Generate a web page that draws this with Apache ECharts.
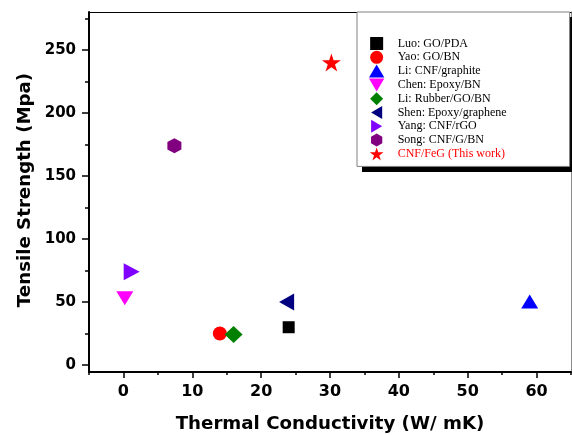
<!DOCTYPE html>
<html>
<head>
<meta charset="utf-8">
<script src="https://cdn.jsdelivr.net/npm/echarts@6/dist/echarts.min.js"></script>
<style>
html,body{margin:0;padding:0;background:#fff;}
#chart{width:572px;height:435px;}
</style>
</head>
<body>
<div id="chart"></div>
<script>
// ---- data ----
var seriesNames = ['Luo: GO/PDA','Yao: GO/BN','Li: CNF/graphite','Chen: Epoxy/BN','Li: Rubber/GO/BN','Shen: Epoxy/graphene','Yang: CNF/rGO','Song: CNF/G/BN','CNF/FeG (This work)'];
var thermalConductivity = [24, 14, 59, 0.2, 16, 23.7, 1.2, 7.4, 30.2];
var tensileStrength = [30, 25, 50.5, 53, 24.3, 50, 74, 174, 240];
var xMajorTicks = [0, 10, 20, 30, 40, 50, 60];
var xMinorTicks = [-5, 5, 15, 25, 35, 45, 55, 65];
var yMajorTicks = [0, 50, 100, 150, 200, 250];
var yMinorTicks = [25, 75, 125, 175, 225, 275];

// ---- styles ----
var colors = ['#000000','#ff0000','#0000ff','#ff00ff','#008000','#000080','#8000ff','#800080','#ff0000'];
var symbols = [
  'path://M0,0L1,0L1,1L0,1Z',
  'circle',
  'path://M1,0L2,1.7L0,1.7Z',
  'path://M0,0L2,0L1,1.7Z',
  'path://M1,0L2,1L1,2L0,1Z',
  'path://M0,1L1.7,0L1.7,2Z',
  'path://M0,0L1.7,1L0,2Z',
  'path://M0.866,0L1.732,0.5L1.732,1.5L0.866,2L0,1.5L0,0.5Z',
  'path://M1,0L1.2245,0.691L1.951,0.691L1.3633,1.118L1.588,1.809L1,1.382L0.412,1.809L0.6367,1.118L0.049,0.691L0.7755,0.691Z'
];
var sizes = [12, 14, [17,14], [17,14], [18,17], [15,17], [16,17], [14,15], [19,18]];

var series = seriesNames.map(function(n, i){
  return {
    name: n, type: 'scatter', xAxisIndex: 0, yAxisIndex: 0,
    symbol: symbols[i], symbolSize: sizes[i],
    itemStyle: {color: colors[i], opacity: 1},
    emphasis: {disabled: true},
    data: [[thermalConductivity[i], tensileStrength[i]]]
  };
});

var legendData = seriesNames.map(function(n, i){
  return {name: n, textStyle: {color: i === seriesNames.length - 1 ? '#ff0000' : '#000000'}};
});

var tickFontY = {fontFamily: 'DejaVu Sans', fontWeight: 'bold', fontSize: 15, color: '#000'};
var tickFontX = {fontFamily: 'DejaVu Sans', fontWeight: 'bold', fontSize: 16, color: '#000'};
var nameFont = {fontFamily: 'DejaVu Sans', fontWeight: 'bold', fontSize: 18.2, color: '#000'};

var gridPos = {left: 89, top: 12, right: 1, bottom: 63, containLabel: false, outerBoundsMode: 'none'};

var option = {
  animation: false,
  backgroundColor: '#fff',
  grid: [Object.assign({}, gridPos), Object.assign({}, gridPos)],
  graphic: [{
    type: 'rect', left: 362, top: 17, z: 1, silent: true,
    shape: {width: 212, height: 155},
    style: {fill: '#000'}
  }],
  legend: {
    left: 357, top: 12, orient: 'vertical', z: 10,
    padding: [25, 63, 6, 12],
    itemWidth: 32, itemHeight: 13, itemGap: 0.8,
    symbolKeepAspect: true,
    backgroundColor: '#fff', borderColor: '#808080', borderWidth: 1,
    textStyle: {fontFamily: 'Liberation Serif', fontSize: 12, color: '#000'},
    selectedMode: false,
    data: legendData
  },
  xAxis: [
    {
      gridIndex: 0, type: 'value', position: 'bottom', min: -5, max: 65,
      axisLine: {show: true, onZero: false, lineStyle: {color: '#000', width: 2}},
      axisTick: {show: true, customValues: xMajorTicks, length: 6, lineStyle: {color: '#000', width: 1.5}},
      axisLabel: {show: true, customValues: xMajorTicks, margin: 12, ...tickFontX},
      splitLine: {show: false},
      name: 'Thermal Conductivity (W/ mK)', nameLocation: 'middle', nameGap: 43,
      nameTextStyle: nameFont
    },
    {
      gridIndex: 0, type: 'value', position: 'top', min: -5, max: 65,
      axisLine: {show: true, onZero: false, lineStyle: {color: '#000', width: 1.2}},
      axisTick: {show: false}, axisLabel: {show: false}, splitLine: {show: false}
    },
    {
      gridIndex: 1, type: 'value', position: 'bottom', min: -5, max: 65,
      axisLine: {show: false, onZero: false},
      axisTick: {show: true, customValues: xMinorTicks, length: 3, lineStyle: {color: '#000', width: 1.5}},
      axisLabel: {show: false}, splitLine: {show: false}
    }
  ],
  yAxis: [
    {
      gridIndex: 0, type: 'value', position: 'left', min: -5.5, max: 280,
      axisLine: {show: true, onZero: false, lineStyle: {color: '#000', width: 2}},
      axisTick: {show: true, customValues: yMajorTicks, length: 7, lineStyle: {color: '#000', width: 1.5}},
      axisLabel: {show: true, customValues: yMajorTicks, margin: 13, ...tickFontY},
      splitLine: {show: false},
      name: 'Tensile Strength (Mpa)', nameLocation: 'middle', nameGap: 54,
      nameTextStyle: Object.assign({padding: [0, 0, 0, 4]}, nameFont)
    },
    {
      gridIndex: 0, type: 'value', position: 'right', min: -5.5, max: 280,
      axisLine: {show: true, onZero: false, lineStyle: {color: '#8a8a8a', width: 1}},
      axisTick: {show: false}, axisLabel: {show: false}, splitLine: {show: false}
    },
    {
      gridIndex: 1, type: 'value', position: 'left', min: -5.5, max: 280,
      axisLine: {show: false, onZero: false},
      axisTick: {show: true, customValues: yMinorTicks, length: 4, lineStyle: {color: '#000', width: 1.5}},
      axisLabel: {show: false}, splitLine: {show: false}
    }
  ],
  series: series
};

var chart = echarts.init(document.getElementById('chart'), null, {renderer: 'canvas'});
chart.setOption(option);
</script>
</body>
</html>
